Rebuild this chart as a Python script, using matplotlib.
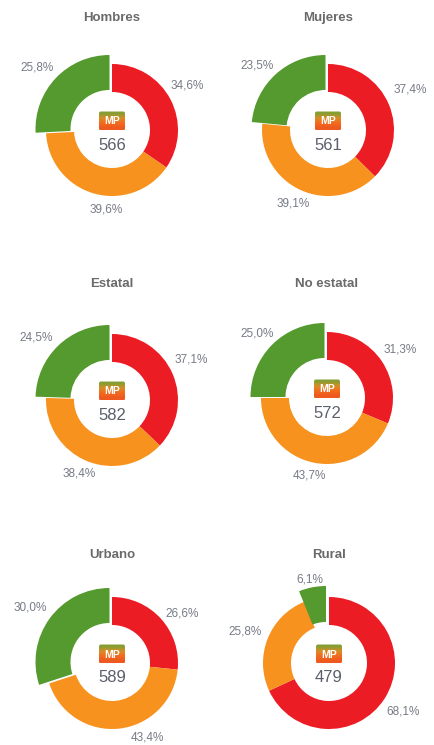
import numpy as np
import matplotlib
matplotlib.use("Agg")
import matplotlib.pyplot as plt
from matplotlib.patches import FancyBboxPatch

plt.rcParams['font.family'] = ['Liberation Sans Narrow', 'Liberation Sans', 'DejaVu Sans']

# Values
titles = ["Hombres", "Mujeres", "Estatal", "No estatal", "Urbano", "Rural"]
totals = [566, 561, 582, 572, 589, 479]
red_values = [34.6, 37.4, 37.1, 31.3, 26.6, 68.1]
orange_values = [39.6, 39.1, 38.4, 43.7, 43.4, 25.8]
green_values = [25.8, 23.5, 24.5, 25.0, 30.0, 6.1]

# Layout, in pixels from the top left of the image
W, H = 434, 745
centers = [(112, 130), (328, 130), (112, 400), (327, 398), (112, 663), (329, 663)]
title_y = [18, 18, 284, 284, 555, 555]
red_label_pos = [(187, 85), (410, 90), (191, 359), (400, 350), (182, 614), (403, 712)]
orange_label_pos = [(106, 209), (293, 204), (79, 474), (309, 475), (147, 737), (245, 632)]
green_label_pos = [(37, 68), (257, 65), (36, 338), (257, 334), (30, 608), (310, 580)]
colors = ["#ec1c24", "#f7921e", "#559a2e"]


def flip(y):
    return H - y


def pct(v):
    return f"{v:.1f}%".replace(".", ",")


def draw_badge(ax, cx, cy):
    # small rounded logo with a green to orange fade
    w, h = 26, 19
    box = FancyBboxPatch((cx - w / 2 + 2, flip(cy) - h / 2 + 2), w - 4, h - 4,
                         boxstyle="round,pad=2", linewidth=0, facecolor="none")
    ax.add_patch(box)
    fade = np.array([[[0.52, 0.62, 0.2]], [[0.85, 0.55, 0.15]], [[0.95, 0.42, 0.12]], [[0.93, 0.35, 0.12]]])
    img = ax.imshow(fade, extent=(cx - w / 2, cx + w / 2, flip(cy) - h / 2, flip(cy) + h / 2),
                    origin="upper", aspect="auto", interpolation="bilinear", zorder=3)
    img.set_clip_path(box)
    ax.text(cx, flip(cy) - 0.5, "MP", color="white", fontsize=7.5, fontweight="bold",
            ha="center", va="center", zorder=4)


def draw_donut(ax, i):
    cx, cy = centers[i]
    vals = [red_values[i], orange_values[i], green_values[i]]
    wedges, _ = ax.pie(vals, colors=colors, startangle=90, counterclock=False, radius=66,
                       center=(cx, flip(cy)), frame=True,
                       wedgeprops=dict(width=28, linewidth=0))
    # the green slice sticks out from the ring
    green = wedges[2]
    if vals[2] < 10:
        green.set_center((cx - 3, flip(cy - 5)))
        green.set_radius(72)
        green.set_width(36)
    else:
        green.set_center((cx - 2.5, flip(cy - 1)))
        green.set_radius(74)
        green.set_width(35)

    ax.text(cx, flip(title_y[i]), titles[i], color="#6a6a6a", fontsize=9.5, fontweight="bold",
            ha="center", va="center")
    draw_badge(ax, cx, cy - 9)
    ax.text(cx, flip(cy + 15), str(totals[i]), color="#5a5f6b", fontsize=12,
            ha="center", va="center")

    for pos, v in zip([red_label_pos[i], orange_label_pos[i], green_label_pos[i]], vals):
        ax.text(pos[0], flip(pos[1]), pct(v), color="#777b85", fontsize=8.5,
                ha="center", va="center")


def main():
    fig = plt.figure(figsize=(W / 100, H / 100), dpi=100)
    ax = fig.add_axes([0, 0, 1, 1])
    for i in range(len(titles)):
        draw_donut(ax, i)
    ax.set_xlim(0, W)
    ax.set_ylim(0, H)
    ax.set_aspect("auto")
    ax.axis("off")
    fig.savefig("out.png", dpi=100)


if __name__ == "__main__":
    main()
